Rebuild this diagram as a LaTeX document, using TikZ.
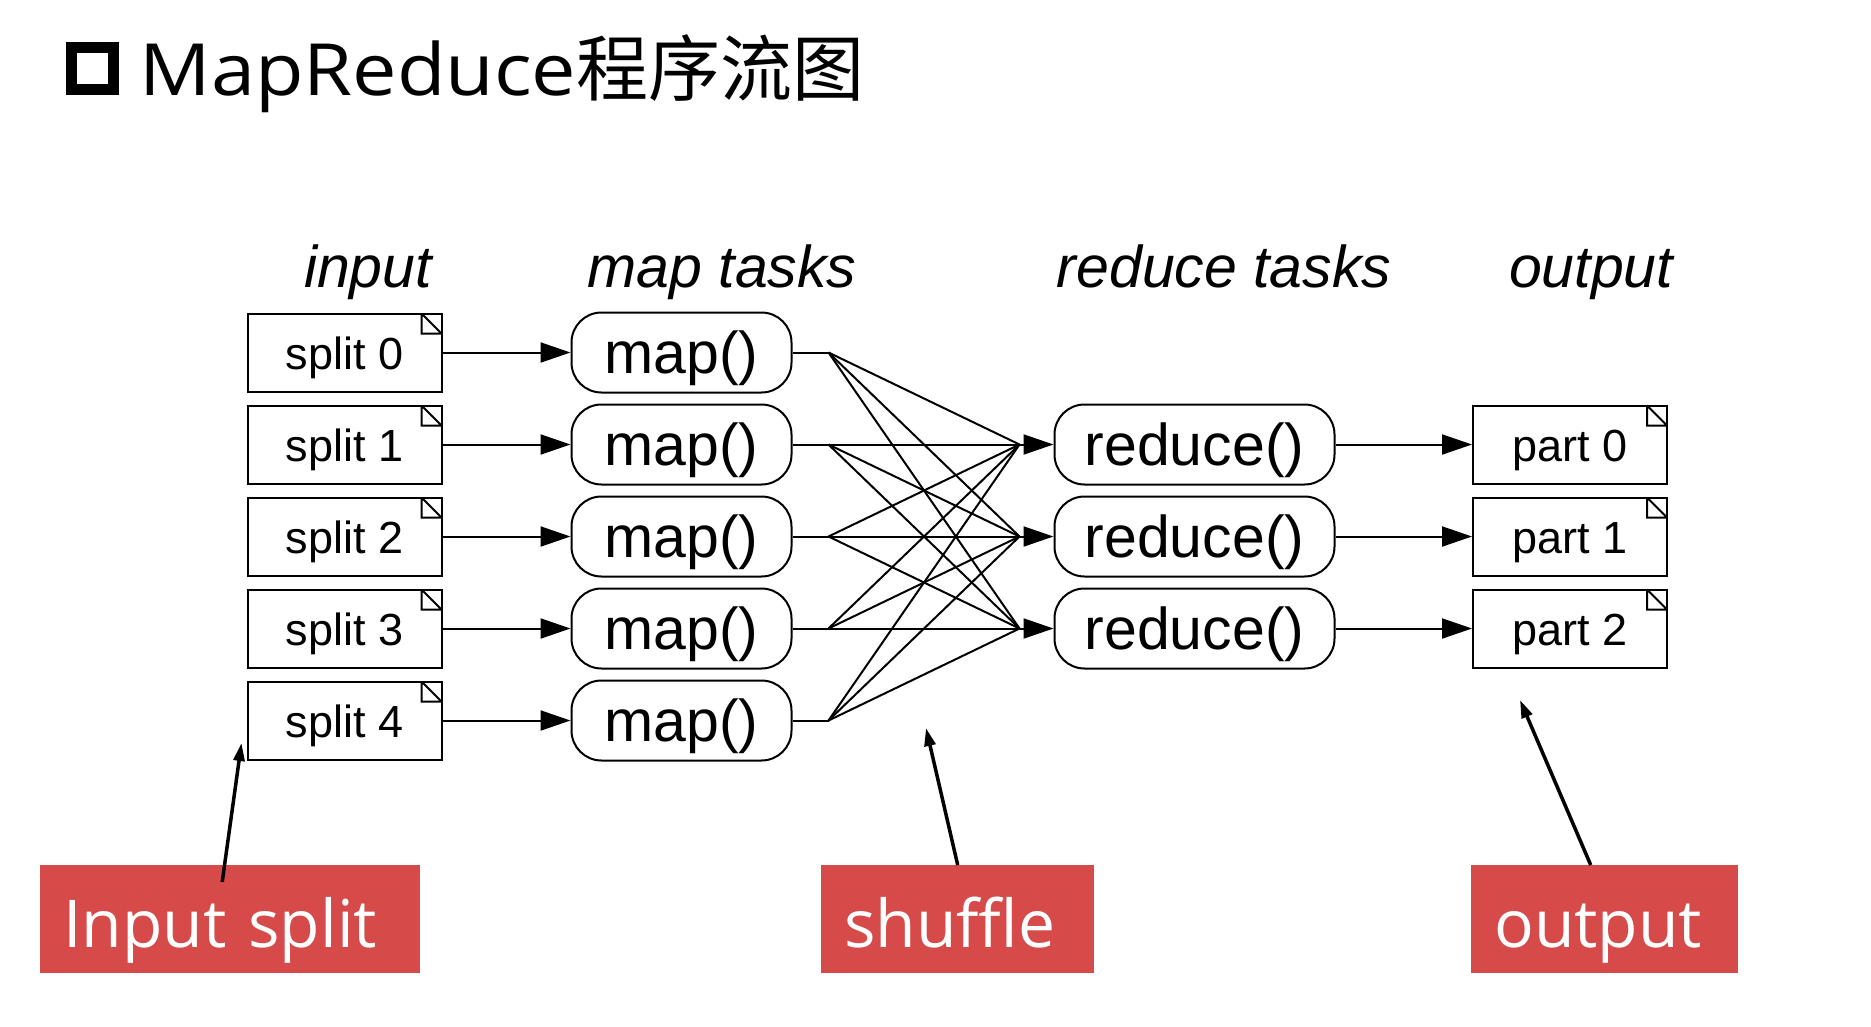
\documentclass[tikz,border=0pt]{standalone}
\usepackage{fontspec}
\setmainfont{Liberation Sans}
\newfontfamily\opensans{Open Sans}
\newfontfamily\titlesans[FakeStretch=1.1]{Open Sans}
\newfontfamily\cjk{Noto Sans CJK SC}
\usepackage{tikz}
\usetikzlibrary{arrows.meta,calc}
\definecolor{tagred}{RGB}{214,75,74}
\tikzstyle{splitbox} = [rectangle, minimum width=194pt, minimum height=78pt, draw=black, line width=2pt, text height=33pt, text depth=0pt, font=\fontsize{45}{54}\selectfont, path picture={\draw[line width=2pt] ([xshift=-20pt]path picture bounding box.north east) -- ++(0pt,-20pt) -- ++(20pt,0pt) -- cycle;}]
\tikzstyle{task} = [rectangle, rounded corners=30pt, minimum height=80pt, draw=black, line width=2pt, text height=41pt, text depth=0pt, font=\fontsize{59}{70}\selectfont]
\tikzstyle{head} = [anchor=base, font=\fontsize{59}{70}\selectfont\itshape]
\tikzstyle{arrow} = [line width=2pt, -{Triangle[length=30pt,width=20pt]}]
\tikzset{
  tag/.style={
    fill=tagred, text=white, anchor=north west,
    inner xsep=23pt, inner ysep=0pt, align=left,
    text height=82pt, text depth=26pt, % baseline 82pt under the top edge
    font=\opensans\fontsize{66}{78}\selectfont
  },
  markarrow/.style={line width=3.5pt, -{Triangle[length=18pt,width=11pt]}}
}

\begin{document}
\begin{tikzpicture}[x=1pt, y=-1pt, node distance=92pt]
  \useasboundingbox (0,0) rectangle (1871,1026);
  % title
  \node (bul) [draw, line width=11pt, minimum size=42pt, inner sep=0pt] at (92.5,68.5) {};
  \node (title) [anchor=base west, font=\fontsize{72}{86}\selectfont] at (136,95) {\titlesans MapReduce\cjk 程序流图};

  % column heads
  \node (hin) [head] at (368,287) {input};
  \node (hmap) [head] at (722,287) {map tasks};
  \node (hred) [head] at (1224,287) {reduce tasks};
  \node (hout) [head] at (1591,287) {output};

  % input splits
  \node (s0) [splitbox] at (344.5,352.5) {split 0};
  \node (s1) [splitbox, below of=s0] {split 1};
  \node (s2) [splitbox, below of=s1] {split 2};
  \node (s3) [splitbox, below of=s2] {split 3};
  \node (s4) [splitbox, below of=s3] {split 4};

  % map tasks
  \node (m0) [task, minimum width=220pt, right of=s0, xshift=245pt] {map()};
  \node (m1) [task, minimum width=220pt, below of=m0] {map()};
  \node (m2) [task, minimum width=220pt, below of=m1] {map()};
  \node (m3) [task, minimum width=220pt, below of=m2] {map()};
  \node (m4) [task, minimum width=220pt, below of=m3] {map()};

  % reduce tasks
  \node (r0) [task, minimum width=280pt, right of=m1, xshift=421pt] {reduce()};
  \node (r1) [task, minimum width=280pt, below of=r0] {reduce()};
  \node (r2) [task, minimum width=280pt, below of=r1] {reduce()};

  % output parts
  \node (p0) [splitbox, right of=r0, xshift=283.5pt] {part 0};
  \node (p1) [splitbox, below of=p0] {part 1};
  \node (p2) [splitbox, below of=p1] {part 2};

  \draw[arrow] (s0.east) -- (m0.west);
  \draw[arrow] (s1.east) -- (m1.west);
  \draw[arrow] (s2.east) -- (m2.west);
  \draw[arrow] (s3.east) -- (m3.west);
  \draw[arrow] (s4.east) -- (m4.west);

  % shuffle: every map to every reduce
  \foreach \i in {0,...,4} \coordinate (o\i) at ([xshift=36pt]m\i.east);
  \foreach \j in {0,1,2} \coordinate (n\j) at ([xshift=-34pt]r\j.west);
  \foreach \i in {0,...,4} {
    \draw[line width=2pt] (m\i.east) -- (o\i);
    \foreach \j in {0,1,2} \draw[line width=2pt] (o\i) -- (n\j);
  }
  \foreach \j in {0,1,2} \draw[arrow] (n\j) -- (r\j.west);

  \draw[arrow] (r0.east) -- (p0.west);
  \draw[arrow] (r1.east) -- (p1.west);
  \draw[arrow] (r2.east) -- (p2.west);

  % red labels
  \node (lin) [tag, text width=334pt] at (40,865) {Input split};
  \node (lsh) [tag, text width=227pt] at (821,865) {shuffle};
  \node (lout) [tag, text width=221pt] at (1471,865) {output};

  \coordinate (tin) at (241.5,743);
  \coordinate (tsh) at (926,728);
  \coordinate (tout) at (1520,700);
  \draw[markarrow] ($(lin.north)+(-8,17)$) -- (tin);
  \draw[markarrow] (lsh.north) -- (tsh);
  \draw[markarrow] ($(lout.north)+(-14,0)$) -- (tout);
\end{tikzpicture}
\end{document}
